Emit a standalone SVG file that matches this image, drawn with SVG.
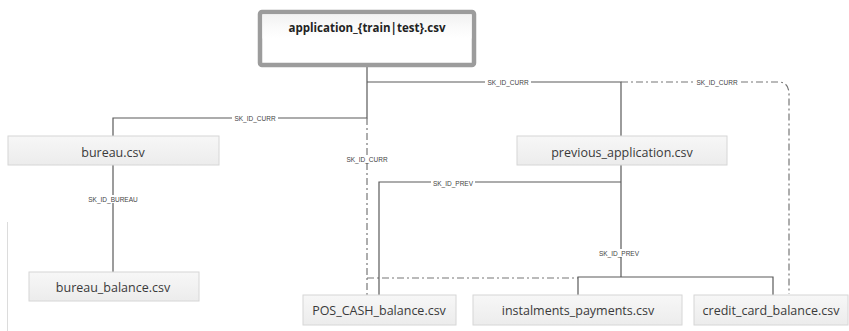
<svg xmlns="http://www.w3.org/2000/svg" width="849" height="331" viewBox="0 0 849 331">
<style>
.box{fill:url(#g);stroke:#d6d6d6;stroke-width:1}
.t{font-family:"Open Sans","Liberation Sans",sans-serif;font-size:12.5px;fill:#3a3a3a;text-anchor:middle;dominant-baseline:central}
.lbl{font-family:"Liberation Sans",sans-serif;font-size:6.5px;fill:#444;text-anchor:middle;dominant-baseline:central}
.bg{fill:#fff}
.s{fill:none;stroke:#5a5a5a;stroke-width:1.2}
.d{fill:none;stroke:#777;stroke-width:1.2;stroke-dasharray:7 3 2 3}
</style>
<defs>
<linearGradient id="g" x1="0" y1="0" x2="0" y2="1">
<stop offset="0" stop-color="#f7f7f7"/><stop offset="1" stop-color="#ececec"/>
</linearGradient>
<linearGradient id="h" x1="0" y1="0" x2="0" y2="1">
<stop offset="0" stop-color="#f2f2f2"/><stop offset="0.55" stop-color="#fafafa"/><stop offset="1" stop-color="#ffffff"/>
</linearGradient>
</defs>
<rect width="849" height="331" fill="#fff"/>
<line x1="7.5" y1="222" x2="7.5" y2="331" stroke="#dcdcdc" stroke-width="1"/>
<g id="connectors">
<path class="s" d="M367,66 V118 H113 V136"/>
<path class="s" d="M367,82 H621 V136"/>
<path class="d" d="M621,82 H778 Q789,82 789,94 V294"/>
<path class="d" d="M367,118 V295"/>
<path class="d" d="M367,278 H578"/>
<path class="s" d="M113,165 V272"/>
<path class="s" d="M621,165 V277 M621,182 H379 V295 M578,295 V277 H773 V295"/>
<rect class="bg" x="232" y="114" width="46" height="8"/>
<rect class="bg" x="485" y="78" width="46" height="8"/>
<rect class="bg" x="694" y="78" width="46" height="8"/>
<rect class="bg" x="344" y="155" width="46" height="8"/>
<rect class="bg" x="87" y="195" width="52" height="8"/>
<rect class="bg" x="431" y="179" width="44" height="8"/>
<rect class="bg" x="597" y="249" width="44" height="8"/>
<text class="lbl" x="255" y="118">SK_ID_CURR</text>
<text class="lbl" x="508" y="82">SK_ID_CURR</text>
<text class="lbl" x="717" y="82">SK_ID_CURR</text>
<text class="lbl" x="367" y="159">SK_ID_CURR</text>
<text class="lbl" x="113" y="199">SK_ID_BUREAU</text>
<text class="lbl" x="453" y="183">SK_ID_PREV</text>
<text class="lbl" x="619" y="253">SK_ID_PREV</text>
</g>
<g id="application">
<rect x="260" y="12" width="214" height="53" rx="2" fill="#fff" stroke="#9c9c9c" stroke-width="4.5"/>
<rect x="262.5" y="14.5" width="209" height="24" fill="url(#h)"/>
<text class="t" x="367" y="27" style="font-weight:bold;font-size:11.5px;fill:#222">application_{train|test}.csv</text>
</g>
<g id="bureau">
<rect class="box" x="8" y="136" width="211" height="29"/>
<text class="t" x="113" y="152">bureau.csv</text>
</g>
<g id="bureau_balance">
<rect class="box" x="29" y="272" width="170" height="29"/>
<text class="t" x="113" y="287">bureau_balance.csv</text>
</g>
<g id="previous_application">
<rect class="box" x="517" y="136" width="210" height="29"/>
<text class="t" x="622" y="152">previous_application.csv</text>
</g>
<g id="pos_cash">
<rect class="box" x="303" y="295" width="153" height="30"/>
<text class="t" x="379" y="310">POS_CASH_balance.csv</text>
</g>
<g id="instalments">
<rect class="box" x="473" y="295" width="209" height="30"/>
<text class="t" x="578" y="310">instalments_payments.csv</text>
</g>
<g id="credit_card">
<rect class="box" x="694" y="295" width="154" height="30"/>
<text class="t" x="771" y="310">credit_card_balance.csv</text>
</g>
</svg>
